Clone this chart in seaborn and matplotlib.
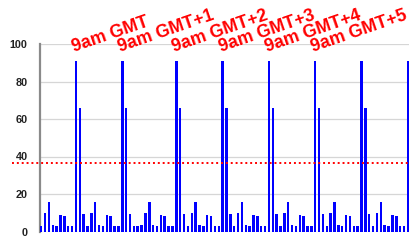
import matplotlib
matplotlib.use("Agg")
import matplotlib.pyplot as plt
import seaborn as sns
import pandas as pd

# 15-minute slots (96) of activity values
slot_values = [
    3, 10, 15.5, 3.5, 3, 9, 8.5, 3, 3,
    91, 66, 9.5, 3, 10, 15.5, 3.5, 3, 9, 8.5, 3, 3,
    91, 66, 9.5, 3, 3, 3.5, 10, 15.5, 3.5, 3, 9, 8.5, 3, 3,
    91, 66, 9.5, 3, 10, 15.5, 3.5, 3, 9, 8.5, 3, 3,
    91, 66, 9.5, 3, 10, 15.5, 3.5, 3, 9, 8.5, 3, 3,
    91, 66, 9.5, 3, 10, 15.5, 3.5, 3, 9, 8.5, 3, 3,
    91, 66, 9.5, 3, 10, 15.5, 3.5, 3, 9, 8.5, 3, 3,
    91, 66, 9.5, 3, 10, 15.5, 3.5, 3, 9, 8.5, 3, 3,
    91,
]
slots = list(range(len(slot_values)))

label_slots = [9, 21, 35, 47, 59, 71]
label_texts = ["9am GMT", "9am GMT+1", "9am GMT+2", "9am GMT+3", "9am GMT+4", "9am GMT+5"]

threshold = 36.5
y_ticks = [0, 20, 40, 60, 80, 100]

df = pd.DataFrame({"slot": slots, "value": slot_values})

sns.set_style("white")
plt.rcParams["font.family"] = ["Liberation Sans", "DejaVu Sans"]

fig = plt.figure(figsize=(4.09, 2.41), dpi=100)
ax = fig.add_axes([40 / 409, 1 - 231.5 / 241, 1 - 40 / 409, (231.5 - 44) / 241])

sns.barplot(data=df, x="slot", y="value", color="#0000ff", saturation=1,
            width=0.64, ax=ax, zorder=3)
for p in ax.patches:
    p.set_edgecolor("none")

ax.set_xlim(-0.32, 95.3)
ax.set_ylim(0, 100)
ax.set_yticks(y_ticks)
ax.set_yticklabels([str(v) for v in y_ticks], fontsize=7.8, fontweight="bold", color="#222222")
ax.set_xticks([])
ax.set_xlabel("")
ax.set_ylabel("")
ax.tick_params(axis="y", length=0, pad=9)
ax.yaxis.grid(True, color="#d6d6d6", linewidth=0.9, zorder=0)
ax.set_axisbelow(True)
for s in ["top", "right", "bottom"]:
    ax.spines[s].set_visible(False)
ax.spines["left"].set_color("#8a8a8a")
ax.spines["left"].set_linewidth(1.6)

ax.axhline(threshold, xmin=-0.076, xmax=1.0, color="#ff0000", linestyle=(0, (1, 1.5)),
           linewidth=1.4, clip_on=False, zorder=5)

for s, t in zip(label_slots, label_texts):
    ax.text(s - 0.5, 95.5, t, color="#ff0000", fontsize=12.8, fontweight="bold",
            rotation=19, rotation_mode="anchor", ha="left", va="baseline",
            clip_on=False, zorder=6)

fig.savefig("out.png", dpi=100)
